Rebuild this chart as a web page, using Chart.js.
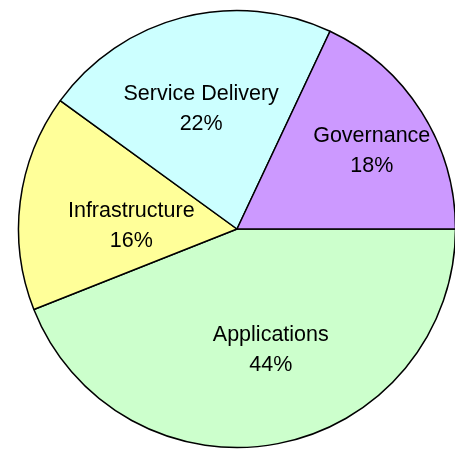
<!DOCTYPE html>
<html>
<head>
<meta charset="utf-8">
<script src="https://cdn.jsdelivr.net/npm/chart.js@4/dist/chart.umd.min.js"></script>
<style>
  html, body { margin: 0; padding: 0; background: #fff; overflow: hidden; }
  #wrap { width: 455px; height: 449px; }
</style>
</head>
<body>
<div id="wrap"><canvas id="pieChart" width="455" height="449"></canvas></div>
<script>
// Budget split by area (percent)
const categories = ['Applications', 'Infrastructure', 'Service Delivery', 'Governance'];
const shares = [44, 16, 22, 18];
const sliceColors = ['#CCFFCC', '#FFFF99', '#CCFFFF', '#CC99FF'];

// label placement per slice: [fraction of radius, angle nudge in degrees]
const labelPlace = [[0.575, -4.8], [0.484, -5.6], [0.571, -2.3], [0.712, 2.4]];

// draws "name / nn%" inside each slice
const sliceLabels = {
  id: 'sliceLabels',
  afterDatasetsDraw(chart) {
    const ctx = chart.ctx;
    const meta = chart.getDatasetMeta(0);
    ctx.save();
    ctx.fillStyle = '#000';
    ctx.font = '21.5px "Liberation Sans", Arial, sans-serif';
    ctx.textAlign = 'center';
    ctx.textBaseline = 'middle';
    meta.data.forEach((arc, i) => {
      const p = arc.getProps(['x', 'y', 'startAngle', 'endAngle', 'outerRadius'], true);
      const mid = (p.startAngle + p.endAngle) / 2 + labelPlace[i][1] * Math.PI / 180;
      const r = p.outerRadius * labelPlace[i][0];
      const x = p.x + Math.cos(mid) * r;
      const y = p.y + Math.sin(mid) * r;
      ctx.fillText(categories[i], x, y - 15);
      ctx.fillText(shares[i] + '%', x, y + 15);
    });
    ctx.restore();
  }
};

new Chart(document.getElementById('pieChart'), {
  type: 'pie',
  data: {
    labels: categories,
    datasets: [{
      data: shares,
      backgroundColor: sliceColors,
      borderColor: '#000',
      borderWidth: 1.5
    }]
  },
  options: {
    responsive: false,
    animation: false,
    devicePixelRatio: 1,
    rotation: 90,
    radius: 218.5,
    layout: { padding: { left: 19, right: 0, top: 9, bottom: 0 } },
    plugins: {
      legend: { display: false },
      tooltip: { enabled: false }
    }
  },
  plugins: [sliceLabels]
});
</script>
</body>
</html>
